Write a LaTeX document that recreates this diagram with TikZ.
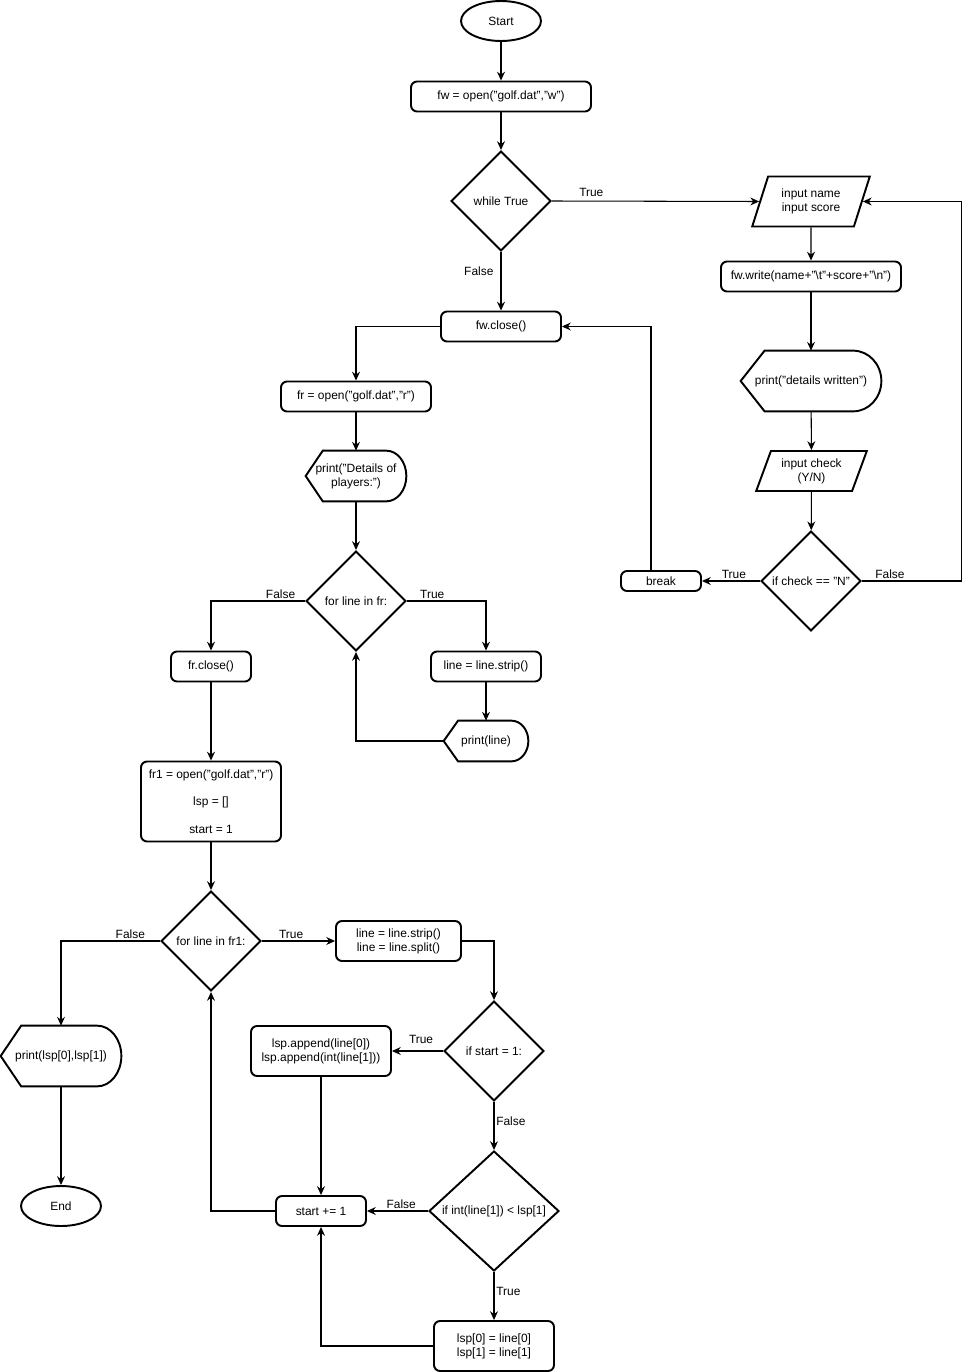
\documentclass[tikz,border=0pt]{standalone}
\usepackage{fontspec}
\setmainfont{Liberation Sans}
\usetikzlibrary{positioning,arrows.meta,shapes.geometric,calc}

% outline of a display (print) shape round a plain node
\newcommand{\dispoutline}[1]{%
  \path ($(#1.north west)!0.17!(#1.north east)$) coordinate (#1-a)
        ($(#1.north west)!0.8!(#1.north east)$) coordinate (#1-b)
        ($(#1.south west)!0.8!(#1.south east)$) coordinate (#1-c)
        ($(#1.south west)!0.17!(#1.south east)$) coordinate (#1-d);
  \draw[line width=1.1pt]
    (#1.west) -- (#1-a) -- (#1-b)
    .. controls ($(#1-b)!0.552!(#1.north east)$) and ($(#1.east)!0.552!(#1.north east)$) .. (#1.east)
    .. controls ($(#1.east)!0.552!(#1.south east)$) and ($(#1-c)!0.552!(#1.south east)$) .. (#1-c)
    -- (#1-d) -- cycle;}

\begin{document}
\begin{tikzpicture}[x=0.02cm, y=-0.02cm,
    every node/.style={font=\fontsize{6.8pt}{8pt}\selectfont},
    term/.style={ellipse, draw=black, line width=1.1pt, minimum width=1.6cm, minimum height=0.8cm, inner sep=0pt},
    proc/.style={rectangle, rounded corners=0.12cm, draw=black, line width=1.1pt, minimum height=0.6cm, align=center, inner sep=1pt},
    decision/.style={diamond, draw=black, line width=1.1pt, minimum width=2cm, minimum height=2cm, inner sep=0pt, align=center},
    io/.style={trapezium, trapezium left angle=68, trapezium right angle=112, trapezium stretches=true, draw=black, line width=1.1pt, align=center, inner sep=1pt},
    disp/.style={rectangle, align=center, inner sep=1pt},
    arrow/.style={-{Stealth[length=5pt,width=4.5pt]}, line width=0.6pt},
    lbl/.style={inner sep=1pt}
]
\useasboundingbox (0,0) rectangle (970,1372);

% writing the file
\node[term] (start) at (501,21) {Start};
\node[proc, minimum width=3.6cm] (fwopen) at (501,96.5) {fw = open("golf.dat","w")};
\node[decision] (while) at (501,201) {while True};
\node[io, minimum width=2.36cm, minimum height=1cm] (inname) at (811,201.5) {input name\\input score};
\node[proc, minimum width=3.6cm] (fwwrite) at (811,276.5) {fw.write(name+"\textbackslash{}t"+score+"\textbackslash{}n")};
\node[disp, minimum width=2.8cm, minimum height=1.2cm] (prdet) at (811,381) {print("details written")};
\node[io, minimum width=2.22cm, minimum height=0.8cm] (incheck) at (811.5,471) {input check\\(Y/N)};
\node[decision] (ifcheck) at (811,581) {if check == "N"};
\node[proc, minimum width=1.6cm, minimum height=0.4cm] (brk) at (661,581) {break};

% reading it back
\node[proc, minimum width=2.4cm] (fwclose) at (501,326.5) {fw.close()};
\node[proc, minimum width=3cm] (fropen) at (356,396.5) {fr = open("golf.dat","r")};
\node[disp, minimum width=2cm, minimum height=1cm] (prplay) at (356,476) {print("Details of\\players:")};
\node[decision] (forfr) at (356,601) {for line in fr:};
\node[proc, minimum width=1.6cm] (frclose) at (211,666.5) {fr.close()};
\node[proc, minimum width=2.2cm] (strip) at (486,666.5) {line = line.strip()};
\node[disp, minimum width=1.68cm, minimum height=0.8cm] (prline) at (486,741) {print(line)};

% best score
\node[proc, minimum width=2.8cm, minimum height=1.6cm] (fropen1) at (211,801.5) {fr1 = open("golf.dat","r")\\[7.5pt]lsp = []\\[7.5pt]start = 1};
\node[decision] (forfr1) at (211,941) {for line in fr1:};
\node[disp, minimum width=2.4cm, minimum height=1.2cm] (prlsp) at (61,1056) {print(lsp[0],lsp[1])};
\node[term] (stop) at (61,1206) {End};
\node[proc, minimum width=2.5cm, minimum height=0.8cm] (split) at (398.5,941) {line = line.strip()\\line = line.split()};
\node[decision] (ifstart) at (494,1051) {if start = 1:};
\node[proc, minimum width=2.8cm, minimum height=1cm] (append) at (321,1051) {lsp.append(line[0])\\lsp.append(int(line[1]))};
\node[decision, minimum width=2.6cm, minimum height=2.4cm] (ifint) at (494,1211) {if int(line[1]) < lsp[1]};
\node[proc, minimum width=1.8cm] (incr) at (321,1211) {start += 1};
\node[proc, minimum width=2.4cm, minimum height=1cm] (swap) at (494,1346) {lsp[0] = line[0]\\lsp[1] = line[1]};

\dispoutline{prdet}
\dispoutline{prplay}
\dispoutline{prline}
\dispoutline{prlsp}

\draw[arrow] (start) -- (fwopen);
\draw[arrow] (fwopen) -- (while);
\draw[arrow] (while.east) -- node[lbl, above=1pt, pos=0.19] {True} (inname.west);
\draw[arrow] (while.south) -- node[lbl, left=3pt, pos=0.33] {False} (fwclose.north);
\draw[arrow] (inname) -- (fwwrite);
\draw[arrow] (fwwrite) -- (prdet);
\draw[arrow] (prdet) -- (incheck);
\draw[arrow] (incheck) -- (ifcheck);
\draw[arrow] (ifcheck.west) -- node[lbl, above, pos=0.45] {True} (brk.east);
\draw[arrow] (ifcheck.east) -- node[lbl, above, pos=0.28] {False} ++(100,0) |- (inname.east);
\draw[arrow] ([xshift=-0.2cm]brk.north) |- (fwclose.east);

\draw[arrow] (fwclose.west) -| (fropen.north);
\draw[arrow] (fropen) -- (prplay);
\draw[arrow] (prplay) -- (forfr);
\draw[arrow] (forfr.west) -| node[lbl, above, pos=0.13] {False} (frclose.north);
\draw[arrow] (forfr.east) -| node[lbl, above, pos=0.16] {True} (strip.north);
\draw[arrow] (strip) -- (prline);
\draw[arrow] (prline.west) -| (forfr.south);

\draw[arrow] (frclose) -- (fropen1);
\draw[arrow] (fropen1) -- (forfr1);
\draw[arrow] (forfr1.west) -| node[lbl, above, pos=0.15] {False} (prlsp.north);
\draw[arrow] (prlsp) -- (stop);
\draw[arrow] (forfr1.east) -- node[lbl, above, pos=0.4] {True} (split.west);
\draw[arrow] (split.east) -| (ifstart.north);
\draw[arrow] (ifstart.west) -- node[lbl, above=3pt, pos=0.43] {True} (append.east);
\draw[arrow] (ifstart.south) -- node[lbl, right, pos=0.4] {False} (ifint.north);
\draw[arrow] (append) -- (incr);
\draw[arrow] (ifint.west) -- node[lbl, above, pos=0.44] {False} (incr.east);
\draw[arrow] (ifint.south) -- node[lbl, right, pos=0.4] {True} (swap.north);
\draw[arrow] (swap.west) -| (incr.south);
\draw[arrow] (incr.west) -| (forfr1.south);

\end{tikzpicture}
\end{document}
